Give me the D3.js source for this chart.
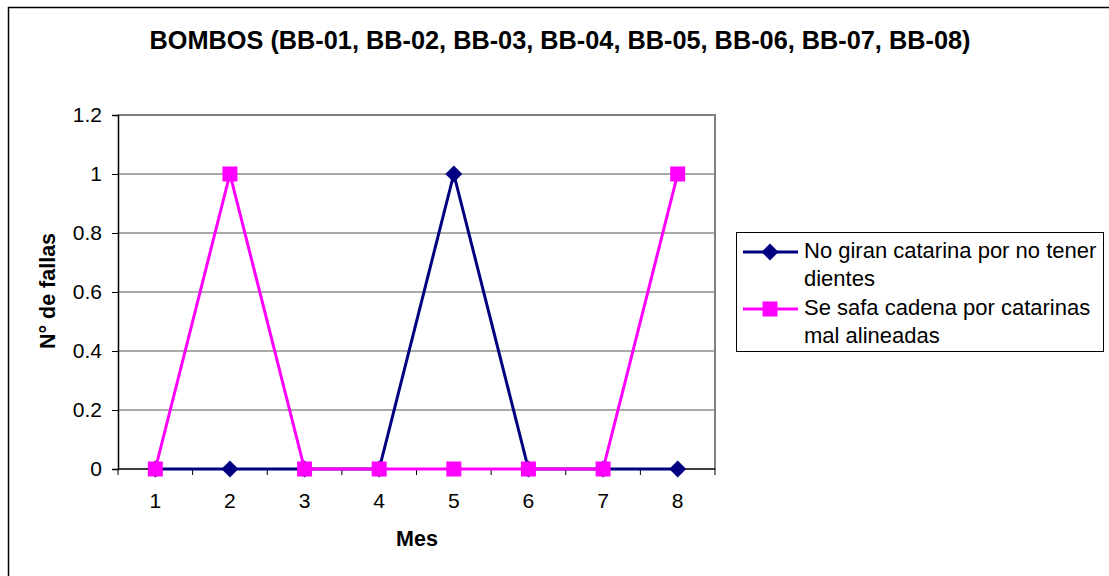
<!DOCTYPE html>
<html>
<head>
<meta charset="utf-8">
<script src="https://d3js.org/d3.v7.min.js"></script>
<style>
  body { margin: 0; background: #fff; }
  text { font-family: "Liberation Sans", Arial, sans-serif; }
</style>
</head>
<body>
<svg id="chart" width="1109" height="576"></svg>
<script>
// data
var meses = [1, 2, 3, 4, 5, 6, 7, 8];
var noGiran = [0, 0, 0, 0, 1, 0, 0, 0];
var seSafa = [0, 1, 0, 0, 0, 0, 0, 1];
var yTicks = [0, 0.2, 0.4, 0.6, 0.8, 1, 1.2];

var series = [
  { name: ["No giran catarina por no tener", "dientes"], values: noGiran, color: "#000080", shape: "diamond" },
  { name: ["Se safa cadena por catarinas", "mal alineadas"], values: seSafa, color: "#ff00ff", shape: "square" }
];

var svg = d3.select("#chart");

// outer chart border
svg.append("rect")
  .attr("x", 8.5).attr("y", 7.5)
  .attr("width", 1120).attr("height", 600)
  .attr("fill", "none").attr("stroke", "#000").attr("stroke-width", 1.5);

var plotL = 118, plotR = 715, plotT = 115, plotB = 469;

var x = d3.scaleBand().domain(meses).range([plotL, plotR]);
var y = d3.scaleLinear().domain([0, 1.2]).range([plotB, plotT]);

// gridlines
svg.append("g")
  .selectAll("line")
  .data(yTicks.slice(1))
  .enter().append("line")
    .attr("x1", plotL).attr("x2", plotR)
    .attr("y1", function(d) { return y(d); })
    .attr("y2", function(d) { return y(d); })
    .attr("stroke", "#555").attr("stroke-width", 1);

// plot area border, grey top and right
svg.append("path")
  .attr("d", "M" + plotL + "," + plotT + "H" + plotR + "V" + plotB)
  .attr("fill", "none").attr("stroke", "#808080").attr("stroke-width", 2);

// y axis
var yAxis = svg.append("g")
  .attr("transform", "translate(" + plotL + ",0)")
  .call(d3.axisLeft(y).tickValues(yTicks).tickSize(6).tickPadding(10)
    .tickFormat(function(d) { return d; }));
yAxis.attr("font-size", null).attr("font-family", null);
yAxis.selectAll("text").attr("font-size", 21).attr("fill", "#000");
yAxis.select(".domain").attr("stroke", "#000").attr("stroke-width", 1.5);

// x axis with ticks between categories
var xAxis = svg.append("g")
  .attr("transform", "translate(0," + plotB + ")");
xAxis.append("line")
  .attr("x1", plotL).attr("x2", plotR)
  .attr("stroke", "#000").attr("stroke-width", 1.5);
var bounds = meses.map(function(d) { return x(d); }).concat([plotR]);
xAxis.selectAll(".tk")
  .data(bounds)
  .enter().append("line")
    .attr("x1", function(d) { return d; }).attr("x2", function(d) { return d; })
    .attr("y1", 0).attr("y2", 6)
    .attr("stroke", "#000");
xAxis.selectAll(".lbl")
  .data(meses)
  .enter().append("text")
    .attr("x", function(d) { return x(d) + x.bandwidth() / 2; })
    .attr("y", 39)
    .attr("text-anchor", "middle")
    .attr("font-size", 21)
    .text(function(d) { return d; });

var cx = function(i) { return x(meses[i]) + x.bandwidth() / 2; };

var line = d3.line()
  .x(function(d, i) { return cx(i); })
  .y(function(d) { return y(d); });

function drawMarker(g, shape, color, px, py) {
  if (shape === "diamond") {
    g.append("path")
      .attr("d", "M" + px + "," + (py - 8.5) + "L" + (px + 8.5) + "," + py + "L" + px + "," + (py + 8.5) + "L" + (px - 8.5) + "," + py + "Z")
      .attr("fill", color);
  } else {
    g.append("rect")
      .attr("x", px - 7.5).attr("y", py - 7.5)
      .attr("width", 15).attr("height", 15)
      .attr("fill", color);
  }
}

series.forEach(function(s) {
  var g = svg.append("g");
  g.append("path")
    .datum(s.values)
    .attr("d", line)
    .attr("fill", "none")
    .attr("stroke", s.color)
    .attr("stroke-width", 3);
  s.values.forEach(function(v, i) {
    drawMarker(g, s.shape, s.color, cx(i), y(v));
  });
});

// title
svg.append("text")
  .attr("x", 560).attr("y", 49)
  .attr("text-anchor", "middle")
  .attr("font-size", 25.3).attr("font-weight", "bold")
  .text("BOMBOS (BB-01, BB-02, BB-03, BB-04, BB-05, BB-06, BB-07, BB-08)");

// axis titles
svg.append("text")
  .attr("x", 417).attr("y", 546)
  .attr("text-anchor", "middle")
  .attr("font-size", 21.5).attr("font-weight", "bold")
  .text("Mes");

svg.append("text")
  .attr("transform", "translate(55,291) rotate(-90)")
  .attr("text-anchor", "middle")
  .attr("font-size", 21.5).attr("font-weight", "bold")
  .text("N° de fallas");

// legend
var legend = svg.append("g");
legend.append("rect")
  .attr("x", 736.5).attr("y", 232.5)
  .attr("width", 367).attr("height", 119)
  .attr("fill", "#fff").attr("stroke", "#000").attr("stroke-width", 1);

series.forEach(function(s, k) {
  var ly = 252 + k * 57;
  legend.append("line")
    .attr("x1", 743).attr("x2", 798)
    .attr("y1", ly).attr("y2", ly)
    .attr("stroke", s.color).attr("stroke-width", 3);
  drawMarker(legend, s.shape, s.color, 770, ly);
  s.name.forEach(function(t, j) {
    legend.append("text")
      .attr("x", 804).attr("y", ly + 6 + j * 28)
      .attr("font-size", 22)
      .text(t);
  });
});
</script>
</body>
</html>
